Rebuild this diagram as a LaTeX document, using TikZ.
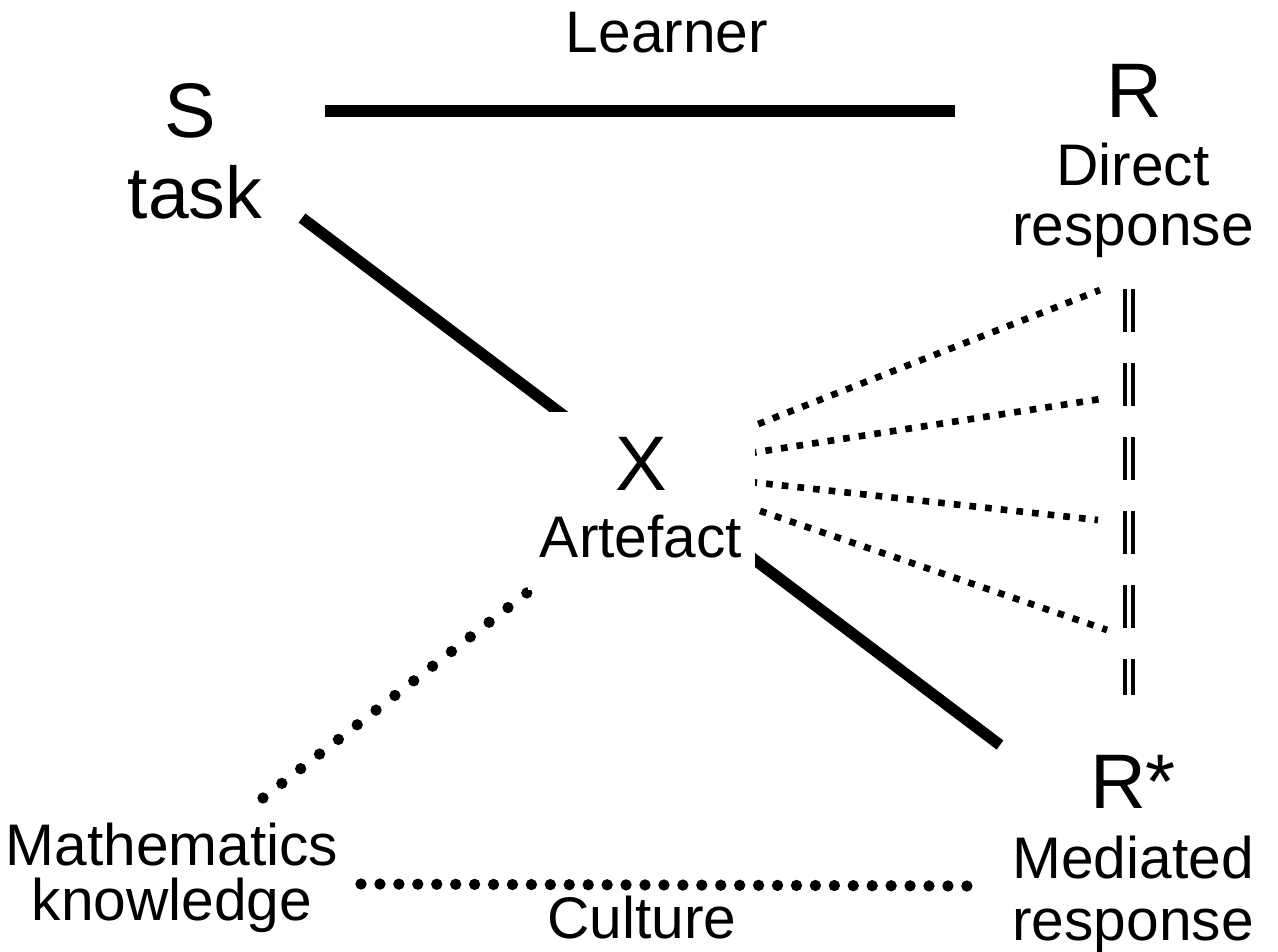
\documentclass[tikz,border=0pt]{standalone}
\usepackage{fontspec}
\setmainfont{Liberation Sans}
\begin{document}
\begin{tikzpicture}[x=0.75pt,y=-0.75pt,
  letter/.style={font=\fontsize{58}{64}\selectfont, inner sep=0pt, anchor=base},
  big/.style={font=\fontsize{55}{60}\selectfont, inner sep=0pt, anchor=base},
  small/.style={font=\fontsize{44}{50}\selectfont, inner sep=0pt, anchor=base},
  solidline/.style={line width=8.5pt},
  squaredots/.style={line width=5pt, dash pattern=on 5pt off 6.8pt},
  rounddots/.style={line width=8.5pt, line cap=round, dash pattern=on 0pt off 17.9pt},
  rounddotsb/.style={line width=8.5pt, line cap=round, dash pattern=on 0pt off 14.2pt},
  doubledash/.style={double, line width=3pt, double distance=2.6pt, dash pattern=on 32.25pt off 23.25pt},
  cover/.style={fill=white, inner sep=0pt}]
\useasboundingbox (0,0) rectangle (1278,951);
% coordinates
\coordinate (ls) at (325,111);
\coordinate (le) at (955,111);
\coordinate (sd) at (302,218);
\coordinate (rd) at (1000,745);
\coordinate (xc) at (641,470);
\coordinate (f1) at (1100,290);
\coordinate (f2) at (1107,398);
\coordinate (f3) at (1098,520);
\coordinate (f4) at (1107,630);
\coordinate (md) at (263,798);
\coordinate (xm) at (528,592);
\coordinate (mk) at (361,884);
\coordinate (rk) at (968,886);
\coordinate (dt) at (1129,289);
\coordinate (db) at (1129,695);
% connectors
\draw[solidline] (ls) -- (le);
\draw[solidline] (sd) -- (rd);
\draw[squaredots] (xc) -- (f1);
\draw[squaredots] (xc) -- (f2);
\draw[squaredots] (xc) -- (f3);
\draw[squaredots] (xc) -- (f4);
\draw[rounddots] (md) -- (xm);
\draw[rounddotsb] (mk) -- (rk);
\draw[doubledash] (dt) -- (db);
% cover of the artefact node
\node[cover, minimum width=170.25pt, minimum height=133.5pt] (xbox) at (641.5,501) {};
% texts
\node[small] (learner) at (667,52) {Learner};
\node[letter] (S) at (190,137) {S};
\node[big] (task) at (195,218) {task};
\node[letter] (R) at (1134,117) {R};
\node[small] (direct) at (1133,185) {Direct};
\node[small] (resp1) at (1133,245) {response};
\node[letter] (X) at (641,490) {X};
\node[small] (artefact) at (641,557) {Artefact};
\node[letter] (Rstar) at (1133,808) {R*};
\node[small] (mediated) at (1133,878) {Mediated};
\node[small] (resp2) at (1133,940) {response};
\node[small] (math) at (172,865) {Mathematics};
\node[small] (know) at (172,920) {knowledge};
\node[small] (culture) at (642,938) {Culture};
\end{tikzpicture}
\end{document}
